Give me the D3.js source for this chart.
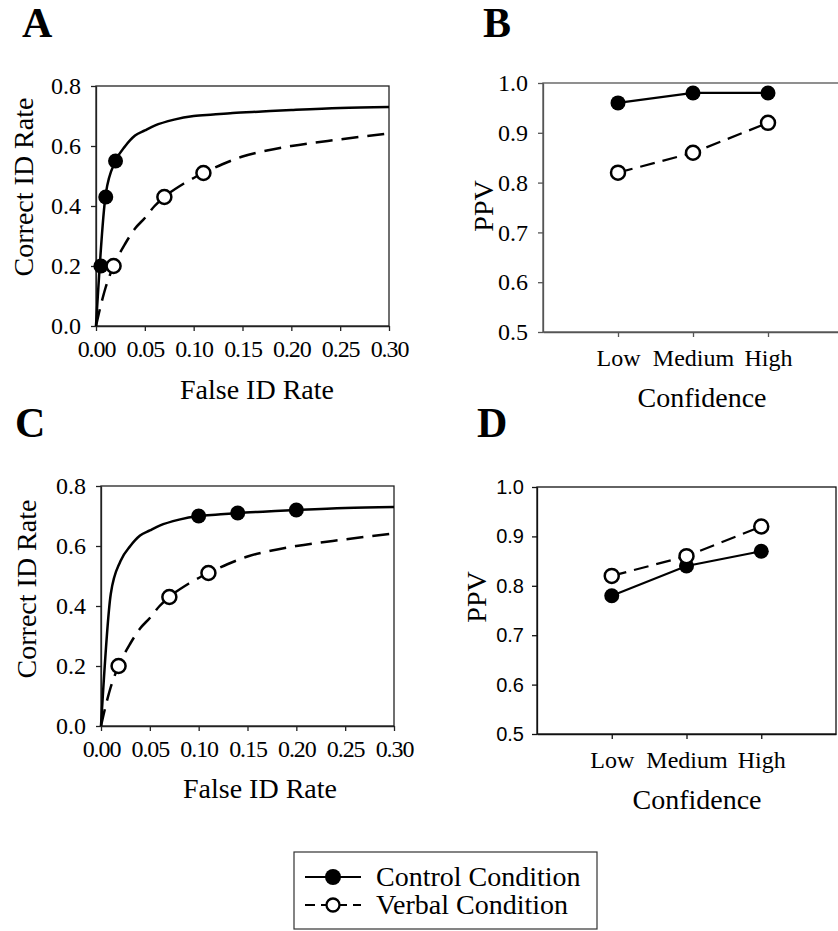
<!DOCTYPE html>
<html>
<head>
<meta charset="utf-8">
<script src="https://cdn.jsdelivr.net/npm/d3@7"></script>
<style>
  body { margin: 0; background: #fff; }
  svg { display: block; }
</style>
</head>
<body>
<div id="chart"></div>
<script>
// ROC curves, same curves in A and C
var controlCurveFalse   = [0, 0.01, 0.02, 0.03, 0.04, 0.05, 0.06, 0.08, 0.10, 0.12, 0.14, 0.17, 0.20, 0.25, 0.30];
var controlCurveCorrect = [0, 0.44, 0.55, 0.60, 0.635, 0.652, 0.668, 0.688, 0.70, 0.705, 0.71, 0.715, 0.72, 0.727, 0.73];
var verbalCurveFalse    = [0, 0.005, 0.01, 0.018, 0.03, 0.04, 0.05, 0.06, 0.07, 0.09, 0.11, 0.13, 0.15, 0.175, 0.20, 0.25, 0.30];
var verbalCurveCorrect  = [0, 0.07, 0.13, 0.20, 0.275, 0.325, 0.36, 0.40, 0.43, 0.475, 0.51, 0.54, 0.565, 0.585, 0.60, 0.622, 0.642];

// ROC data points
var controlFalseA   = [0.005, 0.01, 0.02];
var controlCorrectA = [0.20, 0.43, 0.55];
var controlFalseC   = [0.10, 0.14, 0.20];
var controlCorrectC = [0.70, 0.71, 0.72];
var verbalFalse     = [0.018, 0.07, 0.11];
var verbalCorrect   = [0.20, 0.43, 0.51];

// PPV by confidence
var confidenceLevels = ["Low", "Medium", "High"];
var ppvControlB = [0.96, 0.98, 0.98];
var ppvVerbalB  = [0.82, 0.86, 0.92];
var ppvControlD = [0.78, 0.84, 0.87];
var ppvVerbalD  = [0.82, 0.86, 0.92];

var rocXTicks = [0, 0.05, 0.10, 0.15, 0.20, 0.25, 0.30];
var rocYTicks = [0, 0.2, 0.4, 0.6, 0.8];
var ppvTicks  = [0.5, 0.6, 0.7, 0.8, 0.9, 1.0];

var legendLabels = ["Control Condition", "Verbal Condition"];

var SERIF = "'Liberation Serif', 'Times New Roman', Times, serif";
var SANS = "'Liberation Sans', Arial, Helvetica, sans-serif";
var DASH = "17,9";

var svg = d3.select("#chart").append("svg")
  .attr("width", 838).attr("height", 931)
  .style("font-family", SERIF);
svg.append("rect").attr("width", 838).attr("height", 931).attr("fill", "#fff");

function zip(a, b) { return a.map(function(v, i) { return [v, b[i]]; }); }

function addText(parent, txt, size) {
  return parent.append("text").text(txt)
    .style("font-family", SERIF).style("font-size", size + "px").attr("fill", "#000");
}

function panelLetter(txt, x, y) {
  addText(svg, txt, 42).attr("x", x).attr("y", y).style("font-weight", "bold");
}

function styleAxis(g, color, fontSize, family) {
  g.attr("font-family", null).attr("font-size", null);
  g.select(".domain").attr("stroke", color).attr("stroke-width", 1.3);
  g.selectAll(".tick line").attr("stroke", color).attr("stroke-width", 1.3);
  g.selectAll(".tick text")
    .style("font-size", fontSize + "px")
    .style("font-family", family || SERIF)
    .attr("fill", "#000");
}

function drawRoc(r, controlPts, opts) {
  var x = d3.scaleLinear().domain([0, 0.30]).range([r.x0, r.x1]);
  var y = d3.scaleLinear().domain([0, 0.8]).range([r.y1, r.y0]);
  var g = svg.append("g");

  // frame
  g.append("rect").attr("x", r.x0).attr("y", r.y0)
    .attr("width", r.x1 - r.x0).attr("height", r.y1 - r.y0)
    .attr("fill", "none").attr("stroke", "#222").attr("stroke-width", 1.3);

  var ya = g.append("g").attr("transform", "translate(" + r.x0 + ",0)")
    .call(d3.axisLeft(y).tickValues(rocYTicks).tickFormat(d3.format(".1f")).tickSize(5).tickPadding(10).tickSizeOuter(0));
  styleAxis(ya, "#222", 24);

  var xa = g.append("g").attr("transform", "translate(0," + r.y1 + ")")
    .call(d3.axisBottom(x).tickValues(rocXTicks).tickFormat(d3.format(".2f")).tickSize(5).tickPadding(9).tickSizeOuter(0));
  styleAxis(xa, "#222", 24);
  xa.selectAll(".tick text").style("letter-spacing", "-1.1px");

  var line = d3.line().x(function(d) { return x(d[0]); }).y(function(d) { return y(d[1]); })
    .curve(d3.curveMonotoneX);

  g.append("path").datum(zip(controlCurveFalse, controlCurveCorrect))
    .attr("d", line).attr("fill", "none").attr("stroke", "#000").attr("stroke-width", 2.5);
  g.append("path").datum(zip(verbalCurveFalse, verbalCurveCorrect))
    .attr("d", line).attr("fill", "none").attr("stroke", "#000").attr("stroke-width", 2.5)
    .attr("stroke-dasharray", DASH);

  g.selectAll(".cpt").data(controlPts).enter().append("circle")
    .attr("cx", function(d) { return x(d[0]); }).attr("cy", function(d) { return y(d[1]); })
    .attr("r", 7.5).attr("fill", "#000");
  g.selectAll(".vpt").data(zip(verbalFalse, verbalCorrect)).enter().append("circle")
    .attr("cx", function(d) { return x(d[0]); }).attr("cy", function(d) { return y(d[1]); })
    .attr("r", 7).attr("fill", "#fff").attr("stroke", "#000").attr("stroke-width", 2.5);

  addText(g, "False ID Rate", 28).attr("x", opts.xtx).attr("y", opts.xty).attr("text-anchor", "middle");
  addText(g, "Correct ID Rate", 28)
    .attr("transform", "translate(" + opts.ytx + "," + opts.yty + ") rotate(-90)")
    .attr("text-anchor", "middle");
}

function drawPpv(r, control, verbal, opts) {
  var x = d3.scaleLinear().domain([0, 4]).range([r.x0, r.x1]);
  var y = d3.scaleLinear().domain([0.5, 1.0]).range([r.y1, r.y0]);
  var g = svg.append("g");
  var col = opts.axisColor;

  g.append("rect").attr("x", r.x0).attr("y", r.y0)
    .attr("width", r.x1 - r.x0).attr("height", r.y1 - r.y0)
    .attr("fill", "none").attr("stroke", col).attr("stroke-width", 1.3);

  var ya = g.append("g").attr("transform", "translate(" + r.x0 + ",0)")
    .call(d3.axisLeft(y).tickValues(ppvTicks).tickFormat(d3.format(".1f")).tickSize(5).tickPadding(opts.yPad).tickSizeOuter(0));
  styleAxis(ya, col, opts.yFont, opts.yFamily);

  var xa = g.append("g").attr("transform", "translate(0," + r.y1 + ")")
    .call(d3.axisBottom(x).tickValues([1, 2, 3])
      .tickFormat(function(d) { return confidenceLevels[d - 1]; })
      .tickSize(5).tickPadding(12).tickSizeOuter(0));
  styleAxis(xa, col, 24);
  xa.selectAll(".tick text").attr("dy", null).attr("y", opts.xLabelOff);

  var line = d3.line().x(function(d, i) { return x(i + 1); }).y(function(d) { return y(d); });

  g.append("path").datum(control).attr("d", line).attr("fill", "none")
    .attr("stroke", "#000").attr("stroke-width", 2.2);
  g.append("path").datum(verbal).attr("d", line).attr("fill", "none")
    .attr("stroke", "#000").attr("stroke-width", 2.2).attr("stroke-dasharray", "15,8");

  g.selectAll(".cpt").data(control).enter().append("circle")
    .attr("cx", function(d, i) { return x(i + 1); }).attr("cy", function(d) { return y(d); })
    .attr("r", 7.5).attr("fill", "#000");
  g.selectAll(".vpt").data(verbal).enter().append("circle")
    .attr("cx", function(d, i) { return x(i + 1); }).attr("cy", function(d) { return y(d); })
    .attr("r", 7).attr("fill", "#fff").attr("stroke", "#000").attr("stroke-width", 2.5);

  addText(g, "Confidence", 28).attr("x", opts.xtx).attr("y", opts.xty).attr("text-anchor", "middle");
  addText(g, "PPV", 28)
    .attr("transform", "translate(" + opts.ytx + "," + opts.yty + ") rotate(-90)")
    .attr("text-anchor", "middle");
}

panelLetter("A", 22, 37);
panelLetter("B", 483, 37);
panelLetter("C", 15, 437);
panelLetter("D", 477, 437);

drawRoc({x0: 96, x1: 389, y0: 86, y1: 326}, zip(controlFalseA, controlCorrectA),
  {xtx: 257, xty: 399, ytx: 33, yty: 187});
drawRoc({x0: 101, x1: 394, y0: 486, y1: 726}, zip(controlFalseC, controlCorrectC),
  {xtx: 260, xty: 798, ytx: 36, yty: 589});

drawPpv({x0: 543, x1: 843, y0: 83, y1: 332}, ppvControlB, ppvVerbalB,
  {axisColor: "#555", yFont: 24, yPad: 10, xLabelOff: 34, xtx: 702, xty: 407, ytx: 493, yty: 206});
drawPpv({x0: 537, x1: 836, y0: 487, y1: 734}, ppvControlD, ppvVerbalD,
  {axisColor: "#111", yFont: 20, yPad: 8, yFamily: SANS,
   xLabelOff: 34, xtx: 697, xty: 809, ytx: 486, yty: 597});

// legend
var leg = svg.append("g");
leg.append("rect").attr("x", 294).attr("y", 852).attr("width", 303).attr("height", 77)
  .attr("fill", "#fff").attr("stroke", "#333").attr("stroke-width", 1.2);
var rows = leg.selectAll(".row").data(legendLabels).enter().append("g")
  .attr("transform", function(d, i) { return "translate(0," + (877 + i * 28) + ")"; });
rows.append("line").attr("x1", 305).attr("x2", 361).attr("y1", 0).attr("y2", 0)
  .attr("stroke", "#000").attr("stroke-width", 2.2)
  .attr("stroke-dasharray", function(d, i) { return i ? "10,6" : null; });
rows.append("circle").attr("cx", 333).attr("cy", 0)
  .attr("r", function(d, i) { return i ? 6.5 : 8; })
  .attr("fill", function(d, i) { return i ? "#fff" : "#000"; })
  .attr("stroke", "#000").attr("stroke-width", function(d, i) { return i ? 2.3 : 0; });
rows.each(function(d) {
  addText(d3.select(this), d, 28).attr("x", 376).attr("y", 9);
});
</script>
</body>
</html>
